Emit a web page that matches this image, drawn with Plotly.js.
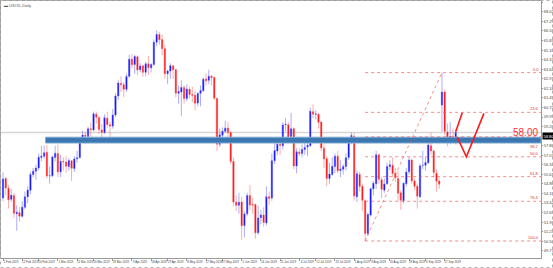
<!DOCTYPE html>
<html>
<head>
<meta charset="utf-8">
<script src="https://cdn.plot.ly/plotly-3.0.1.min.js"></script>
<style>html,body{margin:0;padding:0;background:#fff;}#chart{width:553px;height:268px;}</style>
</head>
<body>
<div id="chart"></div>
<script>
const dates = [
"2019-02-01","2019-02-04","2019-02-05","2019-02-06","2019-02-07","2019-02-08","2019-02-11","2019-02-12","2019-02-13","2019-02-14",
"2019-02-15","2019-02-18","2019-02-19","2019-02-20","2019-02-21","2019-02-22","2019-02-25","2019-02-26","2019-02-27","2019-02-28",
"2019-03-01","2019-03-04","2019-03-05","2019-03-06","2019-03-07","2019-03-08","2019-03-11","2019-03-12","2019-03-13","2019-03-14",
"2019-03-15","2019-03-18","2019-03-19","2019-03-20","2019-03-21","2019-03-22","2019-03-25","2019-03-26","2019-03-27","2019-03-28",
"2019-03-29","2019-04-01","2019-04-02","2019-04-03","2019-04-04","2019-04-05","2019-04-08","2019-04-09","2019-04-10","2019-04-11",
"2019-04-12","2019-04-15","2019-04-16","2019-04-17","2019-04-18","2019-04-22","2019-04-23","2019-04-24","2019-04-25","2019-04-26",
"2019-04-29","2019-04-30","2019-05-01","2019-05-02","2019-05-03","2019-05-06","2019-05-07","2019-05-08","2019-05-09","2019-05-10",
"2019-05-13","2019-05-14","2019-05-15","2019-05-16","2019-05-17","2019-05-20","2019-05-21","2019-05-22","2019-05-23","2019-05-24",
"2019-05-27","2019-05-28","2019-05-29","2019-05-30","2019-05-31","2019-06-03","2019-06-04","2019-06-05","2019-06-06","2019-06-07",
"2019-06-10","2019-06-11","2019-06-12","2019-06-13","2019-06-14","2019-06-17","2019-06-18","2019-06-19","2019-06-20","2019-06-21",
"2019-06-24","2019-06-25","2019-06-26","2019-06-27","2019-06-28","2019-07-01","2019-07-02","2019-07-03","2019-07-04","2019-07-05",
"2019-07-08","2019-07-09","2019-07-10","2019-07-11","2019-07-12","2019-07-15","2019-07-16","2019-07-17","2019-07-18","2019-07-19",
"2019-07-22","2019-07-23","2019-07-24","2019-07-25","2019-07-26","2019-07-29","2019-07-30","2019-07-31","2019-08-01","2019-08-02",
"2019-08-05","2019-08-06","2019-08-07","2019-08-08","2019-08-09","2019-08-12","2019-08-13","2019-08-14","2019-08-15","2019-08-16",
"2019-08-19","2019-08-20","2019-08-21","2019-08-22","2019-08-23","2019-08-26","2019-08-27","2019-08-28","2019-08-29","2019-08-30",
"2019-09-02","2019-09-03","2019-09-04","2019-09-05","2019-09-06","2019-09-09","2019-09-10","2019-09-11","2019-09-12","2019-09-13",
"2019-09-16","2019-09-17","2019-09-18","2019-09-19","2019-09-20","2019-09-23"];

const opens = [
53.80,55.30,54.55,53.70,54.00,52.60,52.70,52.40,53.10,53.90,
54.40,55.60,55.85,56.10,56.90,57.00,57.30,55.50,55.50,56.90,
57.20,55.80,56.60,56.55,56.20,56.65,56.05,56.80,56.90,58.25,
58.60,58.50,59.10,59.00,60.20,59.95,59.00,58.80,59.90,59.40,
59.30,60.15,61.60,62.55,62.45,62.10,63.10,64.40,64.00,64.60,
63.60,63.90,63.40,64.05,63.75,64.00,65.70,66.30,65.90,65.20,
63.30,63.50,63.90,63.60,61.80,61.90,62.25,61.40,62.10,61.70,
61.65,61.05,61.80,62.00,62.90,62.80,63.10,63.00,61.40,57.90,
58.60,58.90,59.15,58.80,56.60,53.50,53.25,53.50,51.70,52.60,
54.00,53.30,53.30,51.15,52.30,52.50,51.90,53.90,53.80,56.65,
57.40,57.90,57.80,59.40,59.40,58.50,59.10,56.25,57.30,57.20,
57.50,57.70,57.80,60.40,60.20,60.20,59.60,57.60,56.80,55.30,
55.60,56.20,57.00,55.90,56.00,56.20,56.90,58.05,58.50,53.90,
55.60,54.70,53.60,51.10,52.50,54.50,54.90,57.10,55.20,54.40,
54.90,56.20,56.30,55.70,55.30,54.20,53.60,54.90,55.80,56.70,
55.10,54.70,53.90,56.30,56.30,56.50,57.80,57.40,55.70,55.10,
60.90,61.90,58.85,58.20,58.50,58.20];

const highs = [
55.75,55.40,54.80,54.50,54.20,53.25,53.10,53.55,54.30,54.70,
55.80,56.10,56.35,57.20,57.80,57.80,57.85,56.20,57.05,57.80,
57.88,57.10,56.90,57.00,56.85,56.70,57.00,57.40,58.40,58.95,
58.85,59.25,59.55,60.40,60.40,60.05,59.45,60.20,60.40,59.65,
60.60,61.80,62.80,63.10,62.65,63.30,64.75,64.80,64.75,64.70,
64.10,64.00,64.20,64.65,64.10,65.90,66.60,66.50,66.30,65.50,
63.60,64.10,64.00,63.70,62.40,62.80,62.40,62.50,62.30,62.30,
62.00,61.90,62.40,63.00,63.30,63.60,63.20,63.10,61.50,59.10,
59.20,59.70,59.60,58.90,56.90,54.00,54.20,53.90,52.80,54.20,
54.80,53.80,53.40,53.20,52.90,53.10,54.70,54.30,57.20,58.00,
58.20,58.30,59.60,59.90,59.60,60.30,59.20,57.60,57.60,57.90,
58.00,58.10,60.70,60.95,60.50,60.30,59.70,57.90,57.00,56.50,
56.90,57.20,57.40,56.70,56.40,57.20,58.30,58.80,58.80,55.90,
55.80,54.90,53.70,52.70,54.60,55.10,57.40,57.20,55.40,55.30,
56.50,56.70,56.90,56.10,55.90,54.40,55.00,56.10,56.90,56.80,
55.30,54.90,56.40,57.40,56.90,58.00,58.80,57.50,56.00,55.30,
63.38,62.10,59.50,59.60,59.10,59.00];

const lows = [
53.55,54.00,53.00,53.50,52.30,51.30,52.00,52.30,52.95,53.40,
54.10,55.40,55.20,55.90,56.60,56.80,55.30,54.90,55.40,56.60,
55.40,55.40,55.90,55.75,55.90,55.10,55.80,56.50,56.80,58.10,
57.90,58.20,58.50,58.90,59.50,58.70,58.30,58.70,59.20,58.20,
59.10,60.00,61.30,61.90,61.50,61.90,63.00,63.70,63.30,63.20,
63.40,63.05,63.10,63.20,63.40,63.90,65.40,65.50,64.70,62.90,
62.50,62.90,62.90,61.50,61.00,60.05,61.00,61.20,61.40,61.10,
60.50,60.80,60.80,61.90,62.40,62.50,62.40,61.30,57.40,57.70,
58.40,58.80,58.10,56.40,53.20,52.80,52.60,50.60,50.80,52.40,
52.90,52.60,50.70,51.00,51.80,51.60,51.70,53.30,53.60,56.40,
57.10,57.10,57.50,58.90,58.20,58.40,56.00,55.70,57.00,56.90,
57.10,57.00,57.70,59.90,59.80,59.10,57.40,56.10,54.70,54.90,
55.50,55.70,55.70,55.40,55.60,55.90,56.70,57.90,53.60,53.50,
54.30,52.80,50.52,50.90,52.40,54.00,54.50,54.90,53.80,54.20,
54.80,55.90,55.40,55.00,53.60,52.90,53.40,54.70,55.60,54.90,
54.40,53.00,53.80,56.00,55.90,56.40,57.10,55.40,54.30,54.50,
58.85,58.60,57.75,57.90,58.00,57.90];

const closes = [
55.26,54.56,53.66,54.01,52.64,52.72,52.41,53.10,53.90,54.41,
55.59,55.85,56.09,56.92,57.00,57.26,55.48,55.50,56.94,57.22,
55.80,56.59,56.56,56.22,56.66,56.07,56.79,56.87,58.26,58.61,
58.52,59.09,59.03,60.23,59.98,59.04,58.82,59.94,59.41,59.30,
60.14,61.59,62.58,62.46,62.10,63.08,64.40,63.98,64.61,63.58,
63.89,63.40,64.05,63.76,64.00,65.70,66.30,65.89,65.21,63.30,
63.50,63.91,63.60,61.81,61.94,62.25,61.40,62.12,61.70,61.66,
61.04,61.78,62.02,62.87,62.76,63.10,62.99,61.42,57.91,58.63,
58.90,59.14,58.81,56.59,53.50,53.25,53.48,51.68,52.59,53.99,
53.26,53.27,51.14,52.28,52.51,51.93,53.90,53.76,56.65,57.43,
57.90,57.83,59.38,59.43,58.47,59.09,56.25,57.34,57.20,57.51,
57.66,57.83,60.43,60.20,60.21,59.58,57.62,56.78,55.30,55.63,
56.22,57.00,55.88,56.02,56.20,56.87,58.05,58.58,53.95,55.66,
54.69,53.63,51.09,52.54,54.50,54.93,57.10,55.23,54.47,54.87,
56.21,56.34,55.68,55.35,54.17,53.64,54.93,55.78,56.71,55.10,
54.70,53.94,56.26,56.30,56.52,57.85,57.40,55.75,55.09,54.85,
61.90,58.90,58.15,58.50,58.20,58.80];

// x-axis label positions (bar numbers) and y-axis tick values
const xLabelBars = [0,7,13,20,27,33,40,47,54,60,67,74,80,87,94,101,108,114,121,128,134,141,148,154,161];
const yTickVals = [49.77,50.50,51.23,51.96,52.69,53.42,54.15,54.88,55.61,56.34,57.07,57.80,
                   59.26,59.99,60.72,61.45,62.18,62.91,63.64,64.37,65.10,65.83,66.56,67.29,68.02,68.75];

// drawn objects
const fibLevels = [0, 23.6, 38.2, 50, 61.8, 76.4, 100];
const fibLabels = ["0.0","23.6","38.2","50.0","61.8","76.4","100.0"];
const fibFromDate = "2019-08-07";
const fibToDate = "2019-09-16";
const zoneStartDate = "2019-02-22";
const zoneLow = 58.0, zoneHigh = 58.45;
const keyLevelText = "58.00";
const forecastA_bar = [165, 167.4];
const forecastA_price = [58.86, 60.31];
const forecastB_bar = [165.6, 168.9, 175.3];
const forecastB_price = [58.44, 56.95, 60.27];

const X_MIN = -0.73, X_MAX = 196.1;
const Y_MIN = 49.22, Y_MAX = 68.85;

const MONTHS = ["Jan","Feb","Mar","Apr","May","Jun","Jul","Aug","Sep","Oct","Nov","Dec"];
function fmtDate(s){ const p = s.split("-"); return (+p[2]) + " " + MONTHS[+p[1]-1] + " " + p[0]; }

const bars = dates.map((d, i) => i);

const trace = {
  type: "candlestick",
  x: bars, open: opens, high: highs, low: lows, close: closes,
  increasing: {line: {color: "rgba(70,70,255,0.45)", width: 1}, fillcolor: "#0a0aff"},
  decreasing: {line: {color: "rgba(255,70,70,0.45)", width: 1}, fillcolor: "#ff0a0a"},
  whiskerwidth: 0,
  hoverinfo: "skip"
};

const iLow = dates.indexOf(fibFromDate);
const iHigh = dates.indexOf(fibToDate);
const fLow = lows[iLow], fHigh = highs[iHigh];
const iZone = dates.indexOf(zoneStartDate) + 0.5;
const lastClose = closes[closes.length - 1];

const fibLine = {color: "rgba(240,80,80,0.65)", width: 1, dash: "dot"};
const shapes = [
  {type: "line", xref: "paper", x0: 0, x1: 1, yref: "y", y0: lastClose, y1: lastClose,
   line: {color: "#d6d6d6", width: 1.5}, layer: "below"},
  {type: "rect", xref: "x", yref: "y", x0: iZone, x1: X_MAX, y0: zoneLow, y1: zoneHigh,
   fillcolor: "#3b77b1", line: {color: "#86aed4", width: 1}, layer: "above"},
  {type: "line", xref: "x", yref: "y", x0: iLow, y0: fLow, x1: iHigh, y1: fHigh, line: fibLine, layer: "above"}
];
const annotations = [];
fibLevels.forEach((lv, k) => {
  const p = fHigh - lv / 100 * (fHigh - fLow);
  shapes.push({type: "line", xref: "x", yref: "y", x0: iLow, x1: X_MAX, y0: p, y1: p, line: fibLine, layer: "above"});
  const underZone = p >= zoneLow && p <= zoneHigh + 0.1;
  annotations.push({xref: "paper", yref: "y", x: 0.998, y: underZone ? zoneLow : p,
    xanchor: "right", yanchor: underZone ? "top" : "bottom",
    text: fibLabels[k], showarrow: false, font: {size: 4, color: "#e03030", family: "Liberation Sans, Arial"}, borderpad: 0});
});
function pathOf(xs, ys){ return xs.map((x, i) => (i ? "L" : "M") + x + "," + ys[i]).join(" "); }
shapes.push({type: "path", xref: "x", yref: "y", path: pathOf(forecastA_bar, forecastA_price),
  line: {color: "#ff1a1a", width: 1.6}, layer: "above"});
shapes.push({type: "path", xref: "x", yref: "y", path: pathOf(forecastB_bar, forecastB_price),
  line: {color: "#ff1a1a", width: 1.6}, layer: "above"});

// outer dotted frame
const PW = 540, PH = 257, ML = 1, MT = 1;
shapes.push({type: "rect", xref: "paper", yref: "paper",
  x0: -(ML - 0.5) / PW, x1: (553 - ML - 0.5) / PW, y0: 1 + (MT - 0.5) / PH, y1: 1 - (268 - MT - 0.5) / PH,
  line: {color: "#b0b0b0", width: 1, dash: "dot"}, layer: "above"});

annotations.push({xref: "paper", yref: "y", x: 0.997, y: 58.8, xanchor: "right", yanchor: "middle",
  text: keyLevelText, showarrow: false, font: {size: 10, color: "#ff3030", family: "Liberation Sans, Arial"}, borderpad: 0});
annotations.push({xref: "paper", yref: "y", x: 1, xshift: 1, y: 58.53, xanchor: "left", yanchor: "middle",
  text: lastClose.toFixed(2), showarrow: false, bgcolor: "#000", font: {size: 4, color: "#fff", family: "Liberation Sans, Arial"}, borderpad: 0.5});
annotations.push({xref: "paper", yref: "paper", x: 0.004, y: 0.997, xanchor: "left", yanchor: "top",
  text: "\u25AC USOIL,Daily", showarrow: false, font: {size: 4, color: "#555", family: "Liberation Sans, Arial"}, borderpad: 0});

const layout = {
  width: 553, height: 268,
  margin: {l: ML, r: 12, t: MT, b: 10, pad: 0},
  paper_bgcolor: "#fff", plot_bgcolor: "#fff",
  showlegend: false,
  xaxis: {
    type: "linear", range: [X_MIN, X_MAX], autorange: false,
    tickmode: "array", tickvals: xLabelBars, ticktext: xLabelBars.map(i => fmtDate(dates[i])),
    tickfont: {size: 2.9, color: "#444", family: "Liberation Sans, Arial"}, tickangle: 0,
    ticks: "outside", ticklen: 2, tickcolor: "#999", ticklabelshift: 8, ticklabelstandoff: -1,
    showgrid: false, zeroline: false, showline: true, mirror: true, linecolor: "#9a9a9a", linewidth: 1,
    rangeslider: {visible: false}, fixedrange: true, automargin: false
  },
  yaxis: {
    side: "right", range: [Y_MIN, Y_MAX], autorange: false,
    tickmode: "array", tickvals: yTickVals, ticktext: yTickVals.map(v => v.toFixed(2)),
    tickfont: {size: 4, color: "#444", family: "Liberation Sans, Arial"},
    ticks: "outside", ticklen: 1, tickcolor: "#999",
    showgrid: false, zeroline: false, showline: true, mirror: true, linecolor: "#9a9a9a", linewidth: 1,
    fixedrange: true, automargin: false
  },
  shapes: shapes,
  annotations: annotations
};

Plotly.newPlot("chart", [trace], layout, {staticPlot: true, displayModeBar: false});
</script>
</body>
</html>
